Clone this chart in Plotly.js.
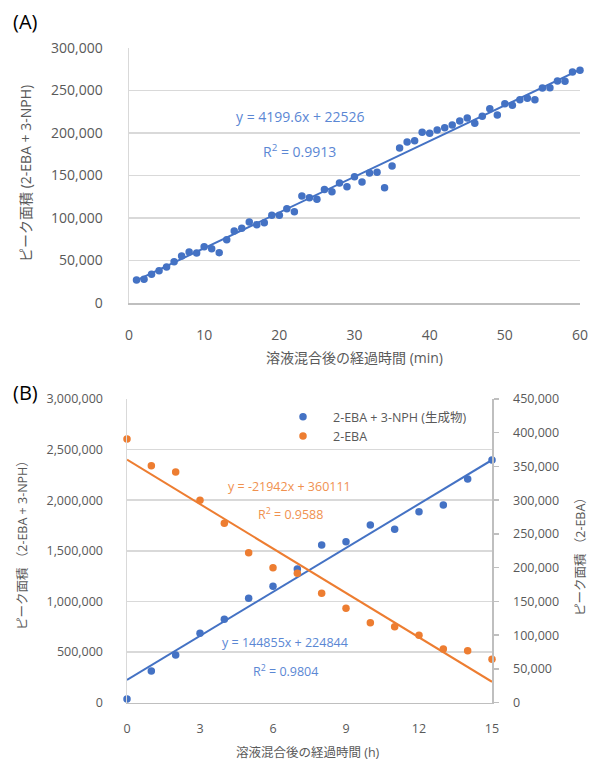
<!DOCTYPE html>
<html>
<head>
<meta charset="utf-8">
<script src="https://cdn.plot.ly/plotly-3.0.1.min.js"></script>
<style>html,body{margin:0;padding:0;background:#fff;}#chart{width:589px;height:762px;}</style>
</head>
<body>
<div id="chart"></div>
<script>
// Panel A: time (min) vs peak area
const timeA = [1,2,3,4,5,6,7,8,9,10,11,12,13,14,15,16,17,18,19,20,21,22,23,24,25,26,27,28,29,30,31,32,33,34,35,36,37,38,39,40,41,42,43,44,45,46,47,48,49,50,51,52,53,54,55,56,57,58,59,60];
const areaA = [27100,27900,33700,38000,42400,48600,55300,60000,58800,66300,63900,59200,74500,84700,87900,95300,92200,94500,103200,103200,111000,107400,125900,123900,122000,133400,131000,141200,136800,148600,142300,152900,153700,135500,161200,182400,189400,191000,200800,199600,203500,206300,209400,214100,217600,211400,219600,228600,221200,234500,232600,239200,240800,239200,253000,253300,261200,260800,271800,273800];
const fitA = {slope: 4199.6, intercept: 22526};

// Panel B: time (h)
const timeB = [0,1,2,3,4,5,6,7,8,9,10,11,12,13,14,15];
const productB = [37000,313000,471000,686000,824000,1032000,1150000,1321000,1558000,1591000,1756000,1713000,1887000,1953000,2210000,2398000];
const ebaB = [390800,351000,342000,300000,266000,222000,200000,191800,162000,140000,118600,112600,99900,79600,77000,64300];
const fitProduct = {slope: 144855, intercept: 224844};
const fitEba = {slope: -21942, intercept: 360111};

const legendNames = ['2-EBA + 3-NPH (生成物)', '2-EBA'];
const BLUE = '#4472C4', ORANGE = '#ED7D31';
const FONT = 'Open Sans, Noto Sans CJK JP, sans-serif';

function line(fit, xs) {
  const x0 = Math.min(...xs), x1 = Math.max(...xs);
  return {x: [x0, x1], y: [fit.slope * x0 + fit.intercept, fit.slope * x1 + fit.intercept]};
}
const lA = line(fitA, timeA), lP = line(fitProduct, timeB), lE = line(fitEba, timeB);

const traces = [
  {x: lA.x, y: lA.y, mode: 'lines', line: {color: BLUE, width: 2}, xaxis: 'x', yaxis: 'y', showlegend: false, hoverinfo: 'skip'},
  {x: timeA, y: areaA, mode: 'markers', marker: {color: BLUE, size: 7.5}, xaxis: 'x', yaxis: 'y', showlegend: false, cliponaxis: false},
  {x: lP.x, y: lP.y, mode: 'lines', line: {color: BLUE, width: 2}, xaxis: 'x2', yaxis: 'y2', showlegend: false, hoverinfo: 'skip'},
  {x: lE.x, y: lE.y, mode: 'lines', line: {color: ORANGE, width: 2}, xaxis: 'x2', yaxis: 'y3', showlegend: false, hoverinfo: 'skip'},
  {x: timeB, y: productB, mode: 'markers', name: legendNames[0], marker: {color: BLUE, size: 7.5}, xaxis: 'x2', yaxis: 'y2', cliponaxis: false},
  {x: timeB, y: ebaB, mode: 'markers', name: legendNames[1], marker: {color: ORANGE, size: 7.5}, xaxis: 'x2', yaxis: 'y3', cliponaxis: false}
];

const tickFontA = {family: FONT, size: 14, color: '#595959'};
const tickFontB = {family: FONT, size: 12.5, color: '#595959'};
const GRID = '#d9d9d9', AXL = '#bfbfbf';

function note(text, px, py, size, color, angle) {
  return {text: text, x: px/589, y: 1 - py/762, xref: 'paper', yref: 'paper', xanchor: 'center', yanchor: 'middle',
    textangle: angle || 0, showarrow: false, borderpad: 0, font: {family: FONT, size: size, color: color}};
}

const layout = {
  width: 589, height: 762,
  margin: {l: 0, r: 0, t: 0, b: 0},
  paper_bgcolor: '#fff', plot_bgcolor: 'rgba(0,0,0,0)',
  font: {family: FONT, color: '#595959'},
  xaxis: {domain: [129/589, 580/589], anchor: 'y', range: [0, 60], tickvals: [0,10,20,30,40,50,60], showgrid: false, zeroline: false,
    showline: true, linecolor: AXL, linewidth: 1.5, ticks: '', tickfont: tickFontA, ticklabelstandoff: 19,
    title: {text: '溶液混合後の経過時間 (min)', font: {family: FONT, size: 14, color: '#595959'}, standoff: 10}},
  yaxis: {domain: [1 - 303/762, 1 - 48/762], anchor: 'x', range: [0, 300000], dtick: 50000, tickformat: ',d', showgrid: true, gridcolor: GRID, gridwidth: 1.5,
    zeroline: false, showline: true, linecolor: GRID, linewidth: 1.5, ticks: '', tickfont: tickFontA, ticklabelstandoff: 22},
  xaxis2: {domain: [127/589, 492/589], anchor: 'y2', range: [0, 15], tickvals: [0,3,6,9,12,15], showgrid: false, zeroline: false,
    showline: true, linecolor: AXL, linewidth: 1.5, ticks: '', tickfont: tickFontB, ticklabelstandoff: 14},
  yaxis2: {domain: [1 - 702.7/762, 1 - 399/762], anchor: 'x2', range: [0, 3000000], dtick: 500000, tickformat: ',d', showgrid: true, gridcolor: GRID, gridwidth: 1.5,
    zeroline: false, showline: true, linecolor: GRID, linewidth: 1.5, ticks: '', tickfont: tickFontB, ticklabelstandoff: 20},
  yaxis3: {overlaying: 'y2', side: 'right', anchor: 'x2', range: [0, 450000], dtick: 50000, tickformat: ',d', showgrid: false, zeroline: false,
    showline: true, linecolor: AXL, linewidth: 1.5, ticks: 'outside', ticklen: 5, tickcolor: AXL, tickwidth: 1.5, tickfont: tickFontB, ticklabelstandoff: 12},
  showlegend: true,
  legend: {x: 273/589, y: 1 - 402/762, xanchor: 'left', yanchor: 'top', bgcolor: 'rgba(0,0,0,0)', font: {family: FONT, size: 12.5, color: '#595959'}, tracegroupgap: 0, itemwidth: 50},
  annotations: [
    {text: '(A)', x: 11/589, y: 1 - 22/762, xref: 'paper', yref: 'paper', xanchor: 'left', yanchor: 'middle', showarrow: false, font: {family: FONT, size: 20, color: '#000'}},
    {text: '(B)', x: 11/589, y: 1 - 392/762, xref: 'paper', yref: 'paper', xanchor: 'left', yanchor: 'middle', showarrow: false, font: {family: FONT, size: 20, color: '#000'}},
    note('ピーク面積 (2-EBA + 3-NPH)', 25, 174, 14, '#595959', -90),
    note('溶液混合後の経過時間 (h)', 308, 752, 12.5, '#595959'),
    note('ピーク面積 （2-EBA + 3-NPH）', 22, 542, 12.5, '#595959', -90),
    note('ピーク面積 （2-EBA）', 580, 554, 12.5, '#595959', -90),
    note('y = 4199.6x + 22526', 300, 117, 14, '#5B87D4'),
    note('R<sup>2</sup> = 0.9913', 299, 151, 14, '#5B87D4'),
    note('y = -21942x + 360111', 289, 486, 12.5, '#F0914F'),
    note('R<sup>2</sup> = 0.9588', 290, 514, 12.5, '#F0914F'),
    note('y = 144855x + 224844', 285, 642, 12.5, '#5B87D4'),
    note('R<sup>2</sup> = 0.9804', 285, 671, 12.5, '#5B87D4')
  ]
};

Plotly.newPlot('chart', traces, layout, {displayModeBar: false, staticPlot: true});
</script>
</body>
</html>
